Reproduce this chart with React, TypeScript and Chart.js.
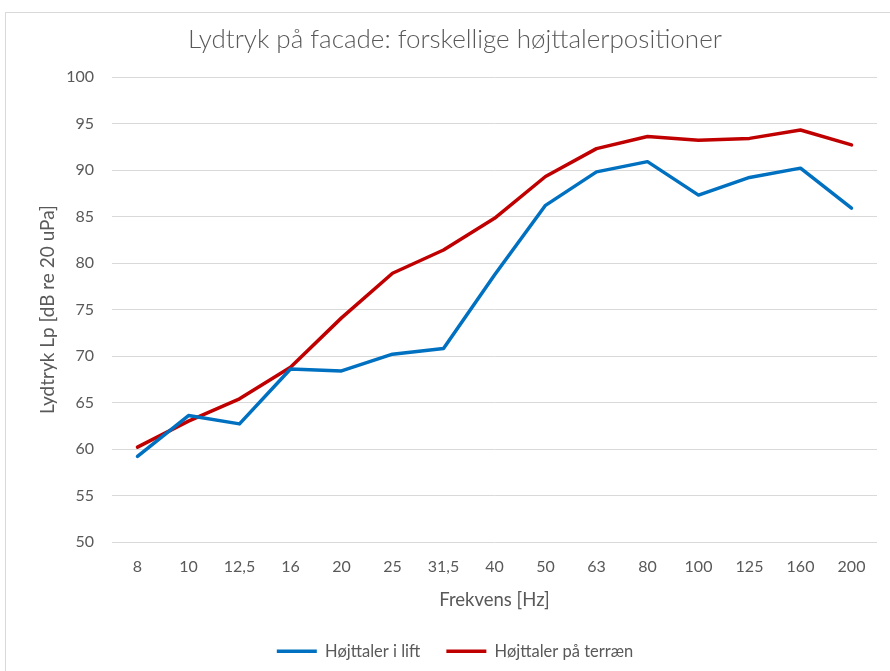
import React, { useEffect, useRef } from "react";
import { Chart, registerables } from "chart.js";

Chart.register(...registerables);

const categories = ["8", "10", "12,5", "16", "20", "25", "31,5", "40", "50", "63", "80", "100", "125", "160", "200"];
const liftValues = [59.2, 63.6, 62.7, 68.6, 68.4, 70.2, 70.8, 78.7, 86.2, 89.8, 90.9, 87.3, 89.2, 90.2, 85.9];
const terrainValues = [60.2, 63.0, 65.4, 68.8, 74.1, 78.9, 81.4, 84.8, 89.3, 92.3, 93.6, 93.2, 93.4, 94.3, 92.7];
const seriesNames = ["Højttaler i lift", "Højttaler på terræn"];
const chartTitle = "Lydtryk på facade: forskellige højttalerpositioner";
const xTitle = "Frekvens [Hz]";
const yTitle = "Lydtryk Lp [dB re 20 uPa]";

const FONT = "Lato, 'Open Sans', sans-serif";
const TEXT = "#595959";
const GRID = "#d9d9d9";

const legendHeightPlugin = {
  id: "legendHeight",
  beforeUpdate(chart: any) {
    const lg = chart.legend;
    if (lg && !lg.__patched) {
      const orig = lg.fit.bind(lg);
      lg.fit = function () {
        orig();
        this.height = 50;
      };
      lg.__patched = true;
    }
  },
};

export default function App() {
  const ref = useRef<HTMLCanvasElement | null>(null);

  useEffect(() => {
    document.body.style.margin = "0";
    if (!ref.current) return;
    const chart = new Chart(ref.current, {
      type: "line",
      data: {
        labels: categories,
        datasets: [
          {
            label: seriesNames[0],
            data: liftValues,
            borderColor: "#0070C0",
            backgroundColor: "#0070C0",
            borderWidth: 3.5,
            pointRadius: 0,
            tension: 0,
            borderCapStyle: "round",
            borderJoinStyle: "round",
          },
          {
            label: seriesNames[1],
            data: terrainValues,
            borderColor: "#C00000",
            backgroundColor: "#C00000",
            borderWidth: 3.5,
            pointRadius: 0,
            tension: 0,
            borderCapStyle: "round",
            borderJoinStyle: "round",
          },
        ],
      },
      plugins: [legendHeightPlugin],
      options: {
        responsive: false,
        animation: false,
        layout: { padding: { left: 33, right: 13, top: 14, bottom: 4 } },
        plugins: {
          title: {
            display: true,
            text: chartTitle,
            color: TEXT,
            font: { family: FONT, size: 26, weight: "300" },
            padding: { top: 10.4, bottom: 21.4 },
          },
          legend: {
            position: "bottom",
            labels: {
              color: TEXT,
              font: { family: FONT, size: 16.5 },
              usePointStyle: true,
              pointStyle: "line",
              pointStyleWidth: 40,
              padding: 26,
            },
          },
          tooltip: { enabled: false },
        },
        scales: {
          x: {
            offset: true,
            grid: { display: false, drawTicks: false },
            border: { display: false },
            ticks: { color: TEXT, font: { family: FONT, size: 16 }, padding: 15, maxRotation: 0, autoSkip: false },
            title: {
              display: true,
              text: xTitle,
              color: TEXT,
              font: { family: FONT, size: 18.5 },
              padding: { top: 6, bottom: 6 },
            },
            afterFit: (scale: any) => {
              scale.height = 75;
            },
          },
          y: {
            min: 50,
            max: 100,
            grid: { color: GRID, lineWidth: 1, drawTicks: false },
            border: { display: false },
            ticks: { stepSize: 5, color: TEXT, font: { family: FONT, size: 16 }, padding: 18 },
            title: {
              display: true,
              text: yTitle,
              color: TEXT,
              font: { family: FONT, size: 19 },
              padding: { top: 3, bottom: 3 },
            },
            afterFit: (scale: any) => {
              scale.width = 79;
            },
          },
        },
      },
    });
    return () => chart.destroy();
  }, []);

  return (
    <div style={{ position: "absolute", left: 0, top: 0, width: 890, height: 671, overflow: "hidden", background: "#fff" }}>
      <div
        style={{
          position: "absolute",
          left: 5,
          top: 12,
          width: 900,
          height: 700,
          border: "1px solid #d9d9d9",
          boxSizing: "border-box",
        }}
      />
      <canvas ref={ref} width={890} height={671} style={{ position: "absolute", left: 0, top: 0 }} />
    </div>
  );
}
